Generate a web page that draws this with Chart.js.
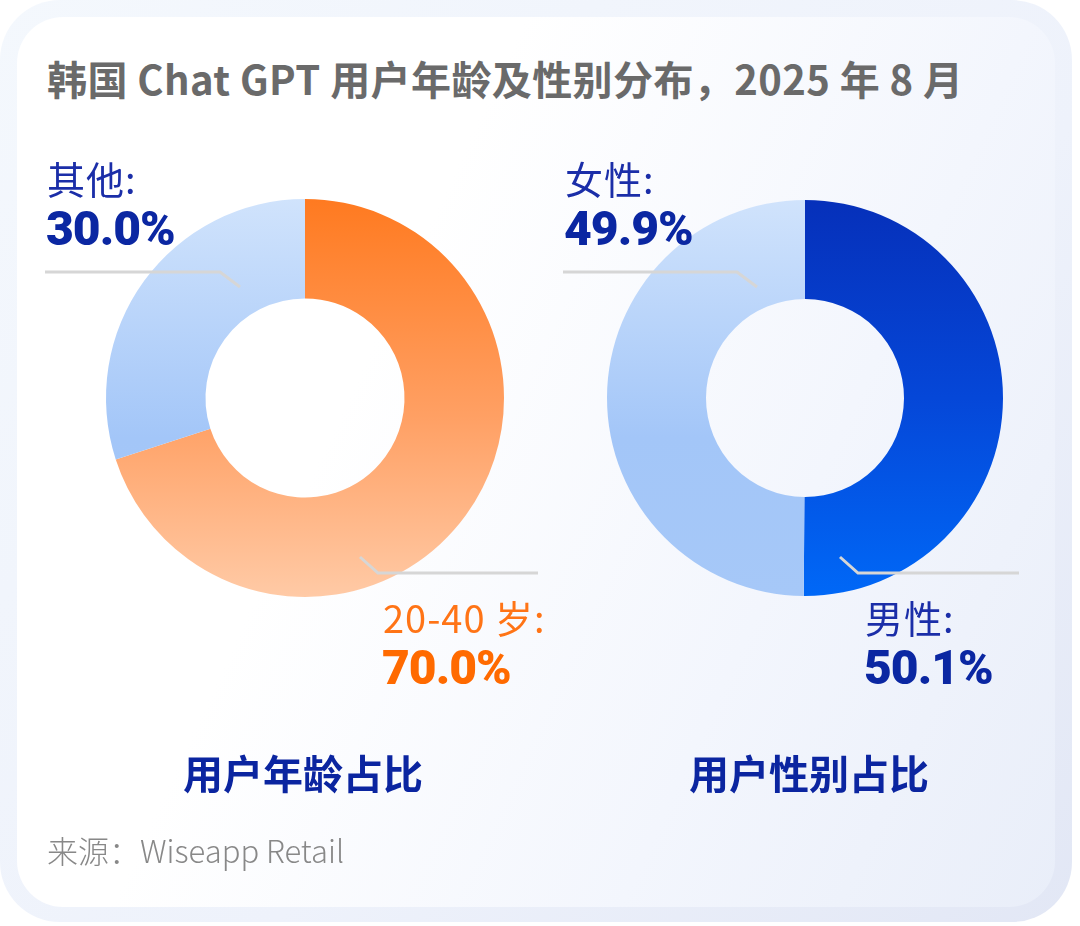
<!DOCTYPE html>
<html>
<head>
<meta charset="utf-8">
<script src="https://cdn.jsdelivr.net/npm/chart.js@4.4.1/dist/chart.umd.min.js"></script>
<style>
    html, body { margin: 0; padding: 0; background: #ffffff; }
    body { width: 1080px; height: 926px; position: relative; overflow: hidden; font-family: 'Noto Sans CJK SC', 'Noto Sans', sans-serif; }
    .frame { position: absolute; left: 0; top: 0; width: 1072px; height: 922px; border-radius: 60px;
        background: linear-gradient(135deg, #f4f8fd 0%, #eef2fb 60%, #e2e7f5 100%); }
    .card { position: absolute; left: 17px; top: 17px; width: 1038px; height: 890px; border-radius: 46px;
        background: linear-gradient(115deg, #ffffff 35%, #f3f6fd 70%, #e9eef9 100%); }
    .box { position: absolute; }
    .title { left: 47px; top: 49px; font-size: 40px; font-weight: 700; color: #6a6a6a; white-space: nowrap; letter-spacing: 0.4px; }
    .lbl { font-size: 38px; font-weight: 400; color: #1b2ea8; white-space: nowrap; line-height: 1; letter-spacing: 1px; }
    .pct { font-family: Roboto, Inter, sans-serif; font-size: 48px; font-weight: 900; color: #0b27a2; letter-spacing: -1px; line-height: 1; white-space: nowrap; }
    .orange { color: #ff7416; }
    .orange.pct { color: #ff6a00; }
    .sub { font-size: 40px; font-weight: 700; color: #0b25a0; width: 400px; text-align: center; line-height: 1; }
    .src { left: 47px; top: 827px; font-size: 31px; font-weight: 300; color: #888888; white-space: nowrap; }
    canvas { position: absolute; }
    svg { position: absolute; left: 0; top: 0; }
</style>
</head>
<body>
<div class="frame"></div>
<div class="card"></div>

<div class="box title">韩国 Chat GPT 用户年龄及性别分布，2025 年 8 月</div>

<div style="position:absolute; left:0; top:120px; width:540px; height:560px;"><canvas id="age"></canvas></div>
<div style="position:absolute; left:540px; top:120px; width:540px; height:560px;"><canvas id="gender"></canvas></div>

<svg width="1080" height="926">
    <polyline points="45,272 220,272 240,287" fill="none" stroke="#d6d6d6" stroke-width="3"/>
    <polyline points="360,557 378,573 538,573" fill="none" stroke="#d6d6d6" stroke-width="3"/>
    <polyline points="563,272 737,272 757,287" fill="none" stroke="#d6d6d6" stroke-width="3"/>
    <polyline points="840,557 858,573 1019,573" fill="none" stroke="#d6d6d6" stroke-width="3"/>
</svg>

<div class="box lbl" id="lbl_age_1" style="left:47px; top:159px;"></div>
<div class="box pct" id="pct_age_1" style="left:46px; top:205px;"></div>
<div class="box lbl orange" id="lbl_age_0" style="left:383px; top:598px;"></div>
<div class="box pct orange" id="pct_age_0" style="left:382px; top:644px;"></div>

<div class="box lbl" id="lbl_gender_1" style="left:565px; top:159px;"></div>
<div class="box pct" id="pct_gender_1" style="left:564px; top:205px;"></div>
<div class="box lbl" id="lbl_gender_0" style="left:865px; top:598px;"></div>
<div class="box pct" id="pct_gender_0" style="left:864px; top:644px;"></div>

<div class="box sub" style="left:103px; top:752px;">用户年龄占比</div>
<div class="box sub" style="left:609px; top:752px;">用户性别占比</div>

<div class="box src">来源：Wiseapp Retail</div>

<script>
// dati
const ageLabels = ['20-40 岁', '其他'];
const ageValues = [70.0, 30.0];
const genderLabels = ['男性', '女性'];
const genderValues = [50.1, 49.9];

/**
 * Gradiente verticale sull'area del grafico
 */
function vGrad(chart, stops) {
    const { ctx, chartArea } = chart;
    if (!chartArea) {
        return stops[0][1];
    }
    const g = ctx.createLinearGradient(0, chartArea.top, 0, chartArea.bottom);
    stops.forEach((s) => g.addColorStop(s[0], s[1]));
    return g;
}

const orangeStops = [[0, '#ff7a20'], [0.55, '#ffa064'], [1, '#ffcaa6']];
const lightStops = [[0, '#d0e3fc'], [0.6, '#a3c6f8'], [1, '#a6c8f8']];
const darkStops = [[0, '#0630ba'], [0.5, '#0547d8'], [1, '#0068f7']];

function makeDoughnut(id, labels, values, stops, padding) {
    const ctx = document.getElementById(id).getContext('2d');
    return new Chart(ctx, {
        type: 'doughnut',
        data: {
            labels: labels,
            datasets: [
                {
                    data: values,
                    borderWidth: 0,
                    backgroundColor: (c) => vGrad(c.chart, stops[c.dataIndex]),
                },
            ],
        },
        options: {
            responsive: true,
            maintainAspectRatio: false,
            animation: false,
            cutout: '50%',
            layout: { padding: padding },
            plugins: {
                legend: { display: false },
                tooltip: { enabled: false },
            },
        },
    });
}

makeDoughnut('age', ageLabels, ageValues, [orangeStops, lightStops],
    { left: 106, right: 36, top: 79, bottom: 83 });
makeDoughnut('gender', genderLabels, genderValues, [darkStops, lightStops],
    { left: 67, right: 77, top: 80, bottom: 84 });

// etichette
function setLabels(prefix, labels, values) {
    labels.forEach((l, i) => {
        document.getElementById(`lbl_${prefix}_${i}`).textContent = `${l}:`;
        document.getElementById(`pct_${prefix}_${i}`).textContent = `${values[i].toFixed(1)}%`;
    });
}
setLabels('age', ageLabels, ageValues);
setLabels('gender', genderLabels, genderValues);
</script>
</body>
</html>
